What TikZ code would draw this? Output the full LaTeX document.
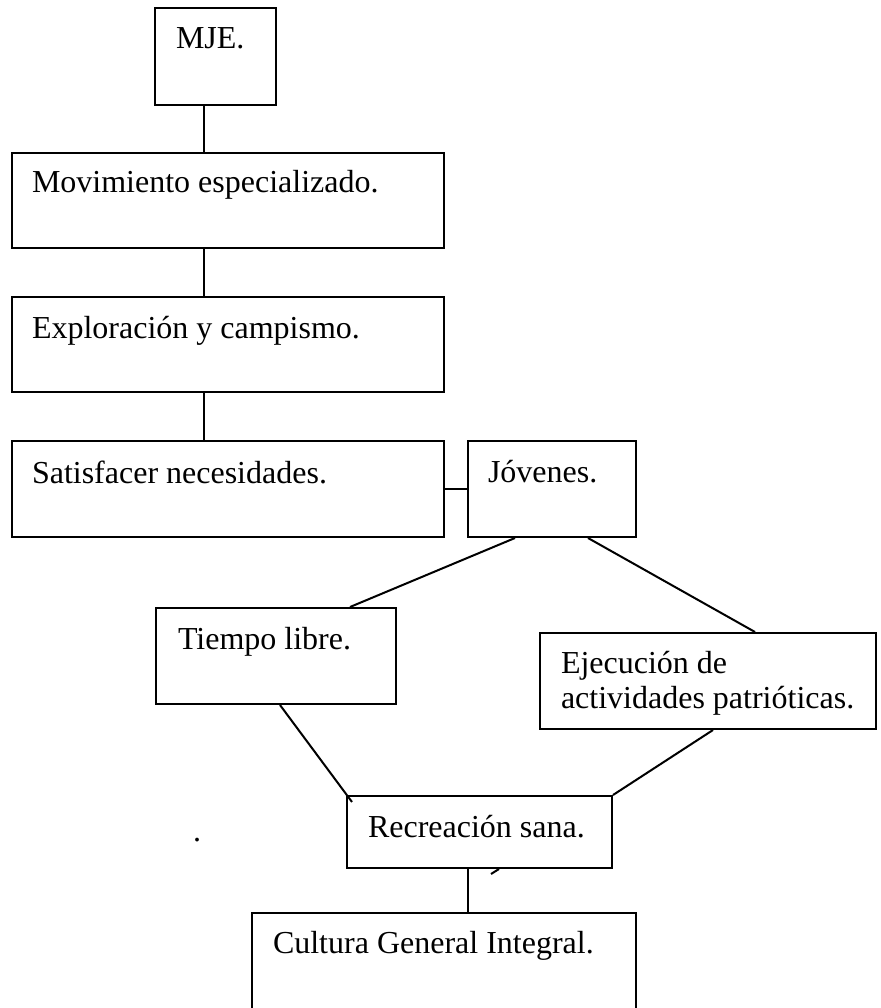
\documentclass[tikz,border=0pt]{standalone}
\usepackage{fontspec}
\setmainfont{Liberation Serif}
\usepackage{tikz}
\usetikzlibrary{calc}

\tikzset{
  box/.style={rectangle, draw=black, line width=2pt, inner sep=0pt},
  txt/.style={anchor=base west, inner sep=0pt, align=left,
    font=\fontsize{32pt}{35pt}\selectfont},
}

\begin{document}
\begin{tikzpicture}[x=1pt, y=-1pt, line width=2pt]
            \useasboundingbox (0,0) rectangle (880,1008);
            \clip (0,0) rectangle (880,1008);
            \node[box, minimum width=121pt, minimum height=97pt] (mje) at (215.5,56.5) {};
            \node[box, minimum width=432pt, minimum height=95pt] (mov) at (228,200.5) {};
            \node[box, minimum width=432pt, minimum height=95pt] (exp) at (228,344.5) {};
            \node[box, minimum width=432pt, minimum height=96pt] (sat) at (228,489) {};
            \node[box, minimum width=168pt, minimum height=96pt] (jov) at (552,489) {};
            \node[box, minimum width=240pt, minimum height=96pt] (tie) at (276,656) {};
            \node[box, minimum width=336pt, minimum height=96pt] (eje) at (708,681) {};
            \node[box, minimum width=265pt, minimum height=72pt] (rec) at (479.5,832) {};
            \node[box, minimum width=384pt, minimum height=100pt] (cul) at (444,963) {};
            \node[txt] (mjet) at ([xshift=21pt,yshift=-42pt]mje.north west) {MJE.};
            \node[txt] (movt) at ([xshift=20pt,yshift=-41pt]mov.north west) {Movimiento especializado.};
            \node[txt] (expt) at ([xshift=20pt,yshift=-42pt]exp.north west) {Exploración y campismo.};
            \node[txt] (satt) at ([xshift=20pt,yshift=-43pt]sat.north west) {Satisfacer necesidades.};
            \node[txt] (jovt) at ([xshift=20pt,yshift=-42pt]jov.north west) {Jóvenes.};
            \node[txt] (tiet) at ([xshift=22pt,yshift=-42pt]tie.north west) {Tiempo libre.};
            % base of a two-line node sits on its last line
            \node[txt] (ejet) at ([xshift=21pt,yshift=-76pt]eje.north west) {Ejecución de\\actividades patrióticas.};
            \node[txt] (rect) at ([xshift=21pt,yshift=-42pt]rec.north west) {Recreación sana.};
            \node[txt] (cult) at ([xshift=21pt,yshift=-41pt]cul.north west) {Cultura General Integral.};
            \node[txt] (dot) at (192,841) {.};
            \coordinate (spine) at (204,0);
            \coordinate (stem) at (468,0);
            \draw (mje.south -| spine) -- (mov.north -| spine);
            \draw (mov.south -| spine) -- (exp.north -| spine);
            \draw (exp.south -| spine) -- (sat.north -| spine);
            \draw (sat.east) -- (jov.west);
            \draw ([xshift=-37pt]jov.south) -- ([xshift=74pt]tie.north);
            \draw ([xshift=36pt]jov.south) -- ([xshift=47pt]eje.north);
            \draw ([xshift=4pt]tie.south) -- ([shift={(6pt,-7pt)}]rec.north west);
            \draw ([xshift=5pt]eje.south) -- (rec.north east);
            \draw (rec.south -| stem) -- (cul.north -| stem);
            \draw ([shift={(11.5pt,-5pt)}]rec.south) -- ([xshift=19.5pt]rec.south);
        \end{tikzpicture}
\end{document}
